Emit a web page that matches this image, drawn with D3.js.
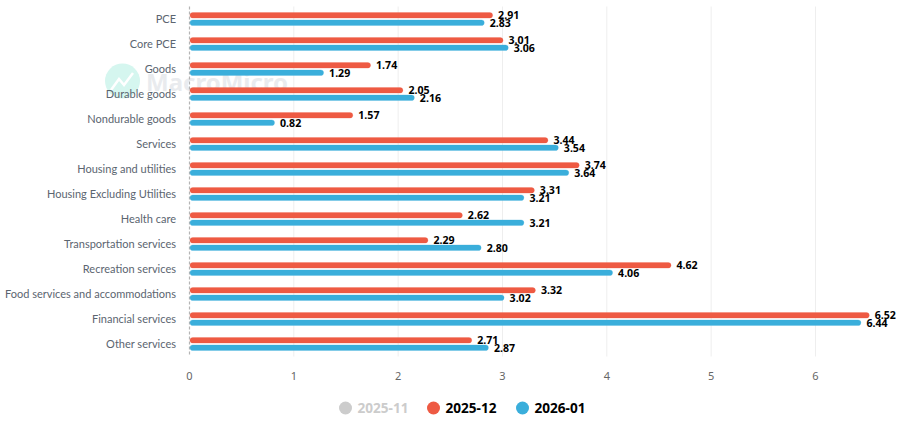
<!DOCTYPE html>
<html><head><meta charset="utf-8">
<script src="https://cdnjs.cloudflare.com/ajax/libs/d3/7.8.5/d3.min.js"></script>
<style>html,body{margin:0;padding:0;background:#fff}svg{display:block}text{font-family:"Noto Sans","Open Sans",sans-serif}text.cat{font-family:Lato,"Noto Sans",sans-serif}</style>
</head><body><svg id="c" width="903" height="427"></svg>
<script>
const categories=["PCE","Core PCE","Goods","Durable goods","Nondurable goods","Services","Housing and utilities","Housing Excluding Utilities","Health care","Transportation services","Recreation services","Food services and accommodations","Financial services","Other services"];
const dec2025=[2.91,3.01,1.74,2.05,1.57,3.44,3.74,3.31,2.62,2.29,4.62,3.32,6.52,2.71];
const jan2026=[2.83,3.06,1.29,2.16,0.82,3.54,3.64,3.21,3.21,2.80,4.06,3.02,6.44,2.87];
const xTicks=[0,1,2,3,4,5,6];
const legendItems=[["2025-11","#ccc","#ccc"],["2025-12","#ee5a43","#000"],["2026-01","#3aaedb","#000"]];

const svg=d3.select("#c");
const x=d3.scaleLinear().domain([0,6]).range([189.5,815.5]);
const y=d3.scaleBand().domain(categories).range([6.5,356.5]);

// watermark
const wm=svg.append("g");
wm.append("circle").attr("cx",122.5).attr("cy",81).attr("r",17.5).attr("fill","#d5f6ef");
wm.append("path").attr("d","M111 90 L119 79 L124 85 L133 73").attr("fill","none").attr("stroke","#fff").attr("stroke-width",2.5);
wm.append("text").attr("x",146).attr("y",91).attr("font-size",24).attr("font-weight",700).attr("fill","#e9ebee").text("MacroMicro");

// grid
svg.append("g").selectAll("line").data(xTicks.slice(1)).join("line")
 .attr("x1",d=>x(d)).attr("x2",d=>x(d)).attr("y1",6.5).attr("y2",356.5)
 .attr("stroke","#eeeeee").attr("stroke-width",1);
svg.append("line").attr("x1",x(0)).attr("x2",x(0)).attr("y1",6.5).attr("y2",356.5)
 .attr("stroke","#b4b4b4").attr("stroke-width",1.2).attr("stroke-dasharray","3 2");

// tick labels
svg.append("g").selectAll("text").data(xTicks).join("text")
 .attr("x",d=>x(d)).attr("y",380).attr("text-anchor","middle").attr("font-size",11).attr("fill","#666").text(d=>d);
svg.append("g").selectAll("text").data(categories).join("text").attr("class","cat")
 .attr("x",176).attr("y",d=>y(d)+y.bandwidth()/2+4).attr("text-anchor","end").attr("font-size",11).attr("fill","#5b6570").text(d=>d);

// bars and labels
const series=[[dec2025,"#ee5a43",-3.7],[jan2026,"#3aaedb",3.7]];
const barH=5.6;
series.forEach(([vals,col,off])=>{
 svg.append("g").selectAll("rect").data(vals).join("rect")
  .attr("x",x(0)+.5).attr("y",(d,i)=>y(categories[i])+y.bandwidth()/2+off-barH/2)
  .attr("width",d=>x(d)-x(0)-1).attr("height",barH).attr("rx",2.8)
  .attr("fill",col).attr("stroke",col).attr("stroke-opacity",.25).attr("stroke-width",1);
});
series.forEach(([vals,col,off])=>{
 svg.append("g").selectAll("text").data(vals).join("text")
  .attr("x",d=>x(d)+5).attr("y",(d,i)=>y(categories[i])+y.bandwidth()/2+off+4)
  .attr("font-size",10.6).attr("font-weight",700).attr("fill","#000").text(d=>d.toFixed(2));
});

// legend
const lx=[345.5,433.5,522.5];
const lg=svg.append("g").selectAll("g").data(legendItems).join("g").attr("transform",(d,i)=>`translate(${lx[i]},408)`);
lg.append("circle").attr("r",6.5).attr("fill",d=>d[1]);
lg.append("text").attr("x",12).attr("y",5).attr("font-size",13.6).attr("font-weight",700).attr("fill",d=>d[2]).text(d=>d[0]);
</script></body></html>
